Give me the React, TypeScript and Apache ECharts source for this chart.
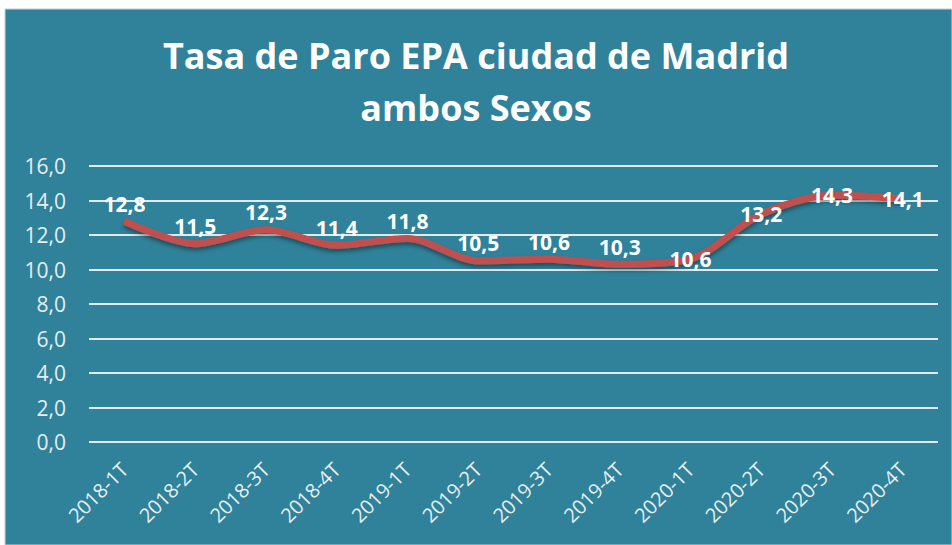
import React, { useEffect, useRef } from "react";
import * as echarts from "echarts";

const categories = ["2018-1T","2018-2T","2018-3T","2018-4T","2019-1T","2019-2T","2019-3T","2019-4T","2020-1T","2020-2T","2020-3T","2020-4T"];
const values = [12.8, 11.5, 12.3, 11.4, 11.8, 10.5, 10.6, 10.3, 10.6, 13.2, 14.3, 14.1];
const labelPositions = ["top","top","top","top","top","top","top","top","inside","inside","inside","inside"];
const titleLines = ["Tasa de Paro EPA ciudad de Madrid", "ambos Sexos"];

const fmt = (v: number) => v.toFixed(1).replace(".", ",");

export default function App() {
  const ref = useRef<HTMLDivElement>(null);
  useEffect(() => {
    if (!ref.current) return;
    const chart = echarts.init(ref.current, null, { renderer: "svg" });
    chart.setOption({
      animation: false,
      backgroundColor: "#ffffff",
      graphic: [
        {
          type: "rect",
          z: -10,
          shape: { x: 5, y: 9, width: 947, height: 536 },
          style: { fill: "#2F829A", stroke: "#c8cfd2", lineWidth: 1 },
        },
      ],
      title: {
        text: titleLines.join("\n"),
        left: "center",
        top: 24,
        textStyle: {
          color: "#ffffff",
          fontFamily: "Open Sans",
          fontWeight: "bold",
          fontSize: 36,
          lineHeight: 52,
        },
      },
      grid: { left: 89, right: 14, top: 166, bottom: 103 },
      xAxis: {
        type: "category",
        data: categories,
        boundaryGap: true,
        axisLine: { show: false },
        axisTick: { show: false },
        axisLabel: {
          rotate: 45,
          color: "#e6eef1",
          fontFamily: "Open Sans",
          fontSize: 20,
          margin: 24,
        },
      },
      yAxis: {
        type: "value",
        min: 0,
        max: 16,
        interval: 2,
        axisLine: { show: false },
        axisTick: { show: false },
        axisLabel: {
          color: "#e6eef1",
          fontFamily: "Open Sans",
          fontSize: 21,
          margin: 23,
          formatter: (v: number) => fmt(v),
        },
        splitLine: { lineStyle: { color: "#e4e9eb", width: 2 } },
      },
      series: [
        {
          type: "line",
          data: values.map((v, i) => ({
            value: v,
            label: { show: true, position: labelPositions[i] },
          })),
          smooth: 0.3,
          symbol: "circle",
          symbolSize: 2,
          showSymbol: true,
          itemStyle: { color: "#C0504D", borderWidth: 0 },
          lineStyle: {
            color: "#C0504D",
            width: 7,
            shadowColor: "rgba(0,0,0,0.4)",
            shadowBlur: 4,
            shadowOffsetY: 3,
          },
          label: {
            show: true,
            color: "#ffffff",
            fontFamily: "Open Sans",
            fontWeight: "bold",
            fontSize: 21,
            distance: 6,
            formatter: (p: any) => fmt(p.value),
          },
          labelLayout: { hideOverlap: false },
        },
      ],
    });
    return () => chart.dispose();
  }, []);
  return (
    <div
      ref={ref}
      style={{ position: "absolute", left: 0, top: 0, width: 952, height: 545 }}
    />
  );
}
